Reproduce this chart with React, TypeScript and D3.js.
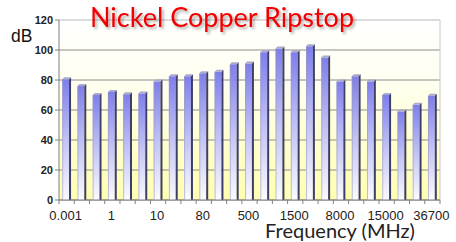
import { scaleBand, scaleLinear, range } from "d3";

const freqs = ["0.001", "", "", "1", "", "", "10", "", "", "80", "", "", "500", "", "", "1500", "", "", "8000", "", "", "15000", "", "", "36700"];
const dB = [80.5, 76, 70, 72, 70.5, 71, 79, 82.5, 82.5, 84.5, 85.5, 90.5, 91, 98.5, 101, 98.5, 102.5, 95, 79, 82.5, 79, 70, 59, 63.5, 69.5];
const yTicks = [0, 20, 40, 60, 80, 100, 120];

const W = 456, H = 242;
const m = { t: 20, r: 16, b: 42, l: 59 };

export default function App() {
  const x = scaleBand<number>()
    .domain(range(dB.length))
    .range([m.l, W - m.r])
    .paddingInner(0.42)
    .paddingOuter(0.21);
  const y = scaleLinear().domain([0, 120]).range([H - m.b, m.t]);
  const step = x.step();
  const side = 2;
  const lift = 2;
  const fw = x.bandwidth() - side;

  return (
    <svg
      width={W}
      height={H}
      style={{ position: "absolute", left: 0, top: 0, background: "#fff" }}
    >
      <defs>
        <linearGradient id="wall" x1="0" y1="0" x2="0" y2="1">
          <stop offset="0" stopColor="#ffffff" />
          <stop offset="0.35" stopColor="#fffff0" />
          <stop offset="1" stopColor="#ffffb0" />
        </linearGradient>
        <linearGradient id="bar" x1="0" y1="0" x2="0" y2="1">
          <stop offset="0" stopColor="#7e7eec" />
          <stop offset="0.5" stopColor="#c2c2f6" />
          <stop offset="1" stopColor="#fbfbff" />
        </linearGradient>
        <filter id="shadow" x="-10%" y="-30%" width="120%" height="160%">
          <feDropShadow dx="2" dy="2" stdDeviation="1.5" floodColor="#000" floodOpacity="0.35" />
        </filter>
      </defs>

      {/* plot wall */}
      <rect x={m.l} y={m.t} width={W - m.r - m.l} height={H - m.b - m.t} fill="url(#wall)" />
      {yTicks.map((t) => (
        <line
          key={t}
          x1={m.l}
          x2={W - m.r}
          y1={y(t)}
          y2={y(t)}
          stroke={t === 120 ? "#b8b8b8" : "#8c8c8c"}
          strokeWidth={1}
        />
      ))}
      <line x1={W - m.r} x2={W - m.r} y1={m.t} y2={H - m.b} stroke="#c8c8c8" />

      {/* bars */}
      {dB.map((v, i) => {
        const x0 = x(i)!;
        const y0 = y(v);
        const y1 = y(0);
        return (
          <g key={i}>
            <rect x={x0} y={y0} width={fw} height={y1 - y0} fill="url(#bar)" />
            <polygon
              points={`${x0 + fw},${y0} ${x0 + fw + side},${y0 - lift} ${x0 + fw + side},${y1} ${x0 + fw},${y1}`}
              fill="#3e3e66"
            />
            <polygon
              points={`${x0},${y0} ${x0 + side},${y0 - lift} ${x0 + fw + side},${y0 - lift} ${x0 + fw},${y0}`}
              fill="#a9a9cc"
            />
            <line x1={x0 + 0.5} x2={x0 + 0.5} y1={y0} y2={y1} stroke="#9a9ab8" strokeOpacity={0.6} />
          </g>
        );
      })}

      {/* axes */}
      <line x1={m.l} x2={m.l} y1={m.t} y2={H - m.b} stroke="#808080" />
      <line x1={m.l} x2={W - m.r} y1={H - m.b} y2={H - m.b} stroke="#808080" />
      {yTicks.map((t) => (
        <g key={t}>
          <line x1={m.l - 4} x2={m.l} y1={y(t)} y2={y(t)} stroke="#808080" />
          <text
            x={m.l - 6}
            y={y(t)}
            dy="0.36em"
            textAnchor="end"
            fontFamily="Liberation Sans, Arial, sans-serif"
            fontWeight="bold"
            fontSize={11}
            fill="#222"
          >
            {t}
          </text>
        </g>
      ))}
      {range(dB.length + 1).map((i) => (
        <line
          key={i}
          x1={m.l + i * step}
          x2={m.l + i * step}
          y1={H - m.b}
          y2={H - m.b + 4}
          stroke="#808080"
        />
      ))}
      {freqs.map((f, i) =>
        f ? (
          <text
            key={i}
            x={x(i)! + fw / 2}
            y={220}
            textAnchor="middle"
            fontFamily="Liberation Sans, Arial, sans-serif"
            fontSize={13}
            fill="#222"
          >
            {f}
          </text>
        ) : null
      )}

      <text x={11} y={42} fontFamily="Liberation Sans, Arial, sans-serif" fontSize={17.5} fill="#111">
        dB
      </text>
      <text x={340} y={238} textAnchor="middle" fontFamily="Lato, sans-serif" fontSize={20} fill="#222">
        Frequency (MHz)
      </text>
      <text
        x={222}
        y={27}
        textAnchor="middle"
        fontFamily="Lato, sans-serif"
        fontSize={27}
        fill="#f00000"
        filter="url(#shadow)"
      >
        Nickel Copper Ripstop
      </text>
    </svg>
  );
}
